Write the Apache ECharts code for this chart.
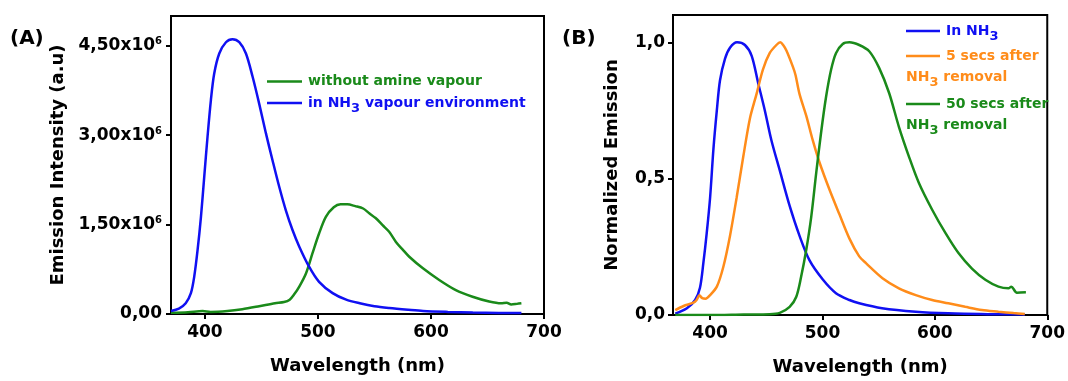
<!DOCTYPE html>
<html>
<head>
<meta charset="utf-8">
<script src="https://cdn.jsdelivr.net/npm/echarts@6/dist/echarts.min.js"></script>
<style>
  html, body { margin: 0; padding: 0; background: #fff; }
  #chart { width: 1068px; height: 381px; }
</style>
</head>
<body>
<div id="chart"></div>
<script>
// panel A : emission intensity (x10^6 a.u.)
const wlA_green = [370, 385, 398, 405, 420, 433, 448, 462, 470, 475, 479, 483.5, 489.4, 495.2, 501, 507, 514, 520, 526, 533, 540, 545.4, 551, 557.2, 563, 569, 575, 580.8, 592.6, 607.3, 622, 636.8, 651.5, 662, 667, 671, 676, 680]
const valA_green = [0.02, 0.03, 0.05, 0.035, 0.05, 0.08, 0.13, 0.18, 0.20, 0.24, 0.33, 0.46, 0.68, 1.02, 1.35, 1.63, 1.79, 1.84, 1.84, 1.81, 1.77, 1.69, 1.61, 1.49, 1.38, 1.21, 1.08, 0.96, 0.77, 0.57, 0.40, 0.29, 0.21, 0.18, 0.19, 0.16, 0.17, 0.18]
const wlA_blue = [370, 377, 383, 387.6, 390.5, 393.5, 396.5, 399.4, 402.3, 405.3, 408.2, 412.7, 418.6, 424.4, 430.4, 436.3, 442.2, 448, 454, 459.8, 465.8, 471.6, 477.5, 483.5, 492.3, 501, 513, 525, 537, 550, 563, 580, 593, 615, 637, 660, 680]
const valA_blue = [0.05, 0.09, 0.18, 0.35, 0.62, 1.07, 1.63, 2.30, 2.97, 3.59, 4.03, 4.37, 4.56, 4.61, 4.56, 4.37, 3.98, 3.53, 3.03, 2.58, 2.13, 1.74, 1.41, 1.13, 0.79, 0.54, 0.35, 0.24, 0.18, 0.13, 0.10, 0.07, 0.05, 0.035, 0.025, 0.018, 0.015]

// panel B : normalized emission
const wlB_blue = [369, 379.4, 386.7, 391, 394, 397, 400, 403, 406, 408.8, 413.3, 417.7, 424, 431, 437, 442.8, 448.7, 454.6, 462, 470.8, 479.6, 488.5, 500.3, 512, 524, 532.7, 553, 583, 612, 650, 680]
const valB_blue = [0.005, 0.025, 0.055, 0.10, 0.19, 0.30, 0.43, 0.61, 0.75, 0.86, 0.94, 0.98, 1.0, 0.99, 0.95, 0.85, 0.75, 0.64, 0.53, 0.40, 0.29, 0.20, 0.13, 0.08, 0.055, 0.043, 0.025, 0.012, 0.006, 0.003, 0.002]
const wlB_orange = [369, 376.4, 385.2, 388, 390.5, 393, 396, 400, 406, 411.8, 417.7, 423.6, 429.5, 435.4, 441.3, 447, 453, 459, 462.5, 465, 467.9, 473.7, 476, 479.6, 485.6, 491.4, 497.3, 506.2, 515, 524, 532.7, 538.7, 553.4, 568, 583, 597.6, 612, 627, 641.8, 656.6, 670, 680]
const valB_orange = [0.018, 0.033, 0.045, 0.055, 0.072, 0.062, 0.060, 0.073, 0.104, 0.177, 0.29, 0.43, 0.58, 0.72, 0.81, 0.90, 0.96, 0.99, 1.0, 0.99, 0.97, 0.91, 0.88, 0.81, 0.73, 0.64, 0.56, 0.46, 0.37, 0.28, 0.215, 0.19, 0.135, 0.098, 0.073, 0.055, 0.043, 0.03, 0.018, 0.012, 0.007, 0.004]
const wlB_green = [369, 400, 430, 453, 462, 470.8, 476.7, 481, 485.6, 490, 494.4, 498.8, 503.2, 507.7, 512, 518, 524, 532.7, 541.6, 550.4, 559.3, 568, 577, 585.8, 597.6, 609.5, 621, 633, 644.9, 656.6, 665.5, 668, 673, 681]
const valB_green = [0.0, 0.0, 0.002, 0.003, 0.008, 0.03, 0.067, 0.14, 0.24, 0.36, 0.52, 0.67, 0.80, 0.90, 0.96, 0.994, 1.0, 0.99, 0.967, 0.906, 0.814, 0.69, 0.58, 0.484, 0.386, 0.30, 0.227, 0.17, 0.129, 0.104, 0.098, 0.104, 0.082, 0.083]

const xTicks = [400, 500, 600, 700]
const yTicksA = [0, 1.5, 3, 4.5]
const yTicksB = [0, 0.5, 1.0]

const GREEN = '#1a8a1a'
const BLUE = '#1010f2'
const ORANGE = '#ff8c1a'
const FONT = 'DejaVu Sans'

const pairs = (xs, ys) => xs.map((x, i) => [x, ys[i]])
const comma = (v, d) => v.toFixed(d).replace('.', ',')

const chart = echarts.init(document.getElementById('chart'), null, { renderer: 'canvas' })

const labelStyle = {
  color: '#000', fontFamily: FONT, fontWeight: 'bold', fontSize: 17
}
const nameStyle = {
  color: '#000', fontFamily: FONT, fontWeight: 'bold', fontSize: 18
}

function xAxis(idx, min) {
  return {
    gridIndex: idx,
    type: 'value',
    min: min,
    max: 700,
    name: 'Wavelength (nm)',
    nameLocation: 'middle',
    nameGap: 43,
    nameTextStyle: nameStyle,
    axisLine: { show: true, onZero: false, lineStyle: { color: '#000', width: 2 } },
    axisTick: { show: true, customValues: xTicks, length: 5, lineStyle: { color: '#000', width: 2 } },
    axisLabel: Object.assign({ customValues: xTicks, margin: 10 }, labelStyle),
    splitLine: { show: false }
  }
}

// rich text pieces for sub/superscripts
const legendRich = (color) => ({
  t: { fontSize: 14, fontWeight: 'bold', fontFamily: FONT, fill: color, lineHeight: 16 },
  s: { fontSize: 13, fontWeight: 'bold', fontFamily: FONT, fill: color, lineHeight: 16, padding: [12, 0, 0, 0] }
})

function legendLine(x1, x2, y, color) {
  return { type: 'line', shape: { x1: x1, y1: y, x2: x2, y2: y }, style: { stroke: color, lineWidth: 2.5 } }
}
function legendText(x, y, text, color) {
  return {
    type: 'text', x: x, y: y,
    style: { text: text, rich: legendRich(color), verticalAlign: 'middle', align: 'left',
      font: 'bold 14px "' + FONT + '"', fill: color }
  }
}

function lineSeries(name, xi, xs, ys, color) {
  return {
    name: name, type: 'line', xAxisIndex: xi, yAxisIndex: xi, data: pairs(xs, ys),
    showSymbol: false, smooth: 0.3, lineStyle: { color: color, width: 2.5 }, itemStyle: { color: color }
  }
}

chart.setOption({
  animation: false,
  backgroundColor: '#fff',
  grid: [
    { left: 171, top: 16, width: 373, height: 298, show: true, borderColor: '#000', borderWidth: 2 },
    { left: 673, top: 15, width: 376, height: 300, show: true, borderColor: '#000', borderWidth: 2 }
  ],
  xAxis: [xAxis(0, 370), xAxis(1, 367)],
  yAxis: [
    {
      gridIndex: 0, type: 'value', min: 0, max: 5,
      name: 'Emission Intensity (a.u)', nameLocation: 'middle', nameRotate: 90, nameGap: 104,
      nameTextStyle: nameStyle,
      axisLine: { show: true, onZero: false, lineStyle: { color: '#000', width: 2 } },
      axisTick: { show: true, customValues: yTicksA, length: 5, lineStyle: { color: '#000', width: 2 } },
      axisLabel: {
        customValues: yTicksA, margin: 9,
        formatter: (v) => v === 0 ? '{n|0,00}' : '{n|' + comma(v, 2) + 'x10}{s|6}',
        rich: {
          n: { fontFamily: FONT, fontWeight: 'bold', fontSize: 17, color: '#000', lineHeight: 18 },
          s: { fontFamily: FONT, fontWeight: 'bold', fontSize: 10, color: '#000', lineHeight: 18, padding: [0, 0, 8, 0] }
        }
      },
      splitLine: { show: false }
    },
    {
      gridIndex: 1, type: 'value', min: 0, max: 1.1,
      name: 'Normalized Emission', nameLocation: 'middle', nameRotate: 90, nameGap: 52,
      nameTextStyle: nameStyle,
      axisLine: { show: true, onZero: false, lineStyle: { color: '#000', width: 2 } },
      axisTick: { show: true, customValues: yTicksB, length: 5, lineStyle: { color: '#000', width: 2 } },
      axisLabel: Object.assign({ customValues: yTicksB, margin: 8, formatter: (v) => comma(v, 1) }, labelStyle),
      splitLine: { show: false }
    }
  ],
  series: [
    lineSeries('without amine vapour', 0, wlA_green, valA_green, GREEN),
    lineSeries('in NH3 vapour environment', 0, wlA_blue, valA_blue, BLUE),
    lineSeries('In NH3', 1, wlB_blue, valB_blue, BLUE),
    lineSeries('5 secs after NH3 removal', 1, wlB_orange, valB_orange, ORANGE),
    lineSeries('50 secs after NH3 removal', 1, wlB_green, valB_green, GREEN)
  ],
  graphic: [
    { type: 'text', x: 10, y: 39, style: { text: '(A)', font: 'bold 20px "' + FONT + '"', fill: '#000', verticalAlign: 'middle' } },
    { type: 'text', x: 562, y: 39, style: { text: '(B)', font: 'bold 20px "' + FONT + '"', fill: '#000', verticalAlign: 'middle' } },

    // legend A
    legendLine(267, 302, 81.5, GREEN),
    legendText(308, 81.5, '{t|without amine vapour}', GREEN),
    legendLine(267, 302, 103, BLUE),
    legendText(308, 103, '{t|in NH}{s|3}{t| vapour environment}', BLUE),

    // legend B
    legendLine(906, 940, 31, BLUE),
    legendText(946, 31, '{t|In NH}{s|3}', BLUE),
    legendLine(906, 940, 56, ORANGE),
    legendText(946, 56, '{t|5 secs after}', ORANGE),
    legendText(906, 77, '{t|NH}{s|3}{t| removal}', ORANGE),
    legendLine(906, 940, 104, GREEN),
    legendText(946, 104, '{t|50 secs after}', GREEN),
    legendText(906, 125, '{t|NH}{s|3}{t| removal}', GREEN)
  ]
})

window.addEventListener('resize', () => {
  chart.resize()
})
</script>
</body>
</html>
